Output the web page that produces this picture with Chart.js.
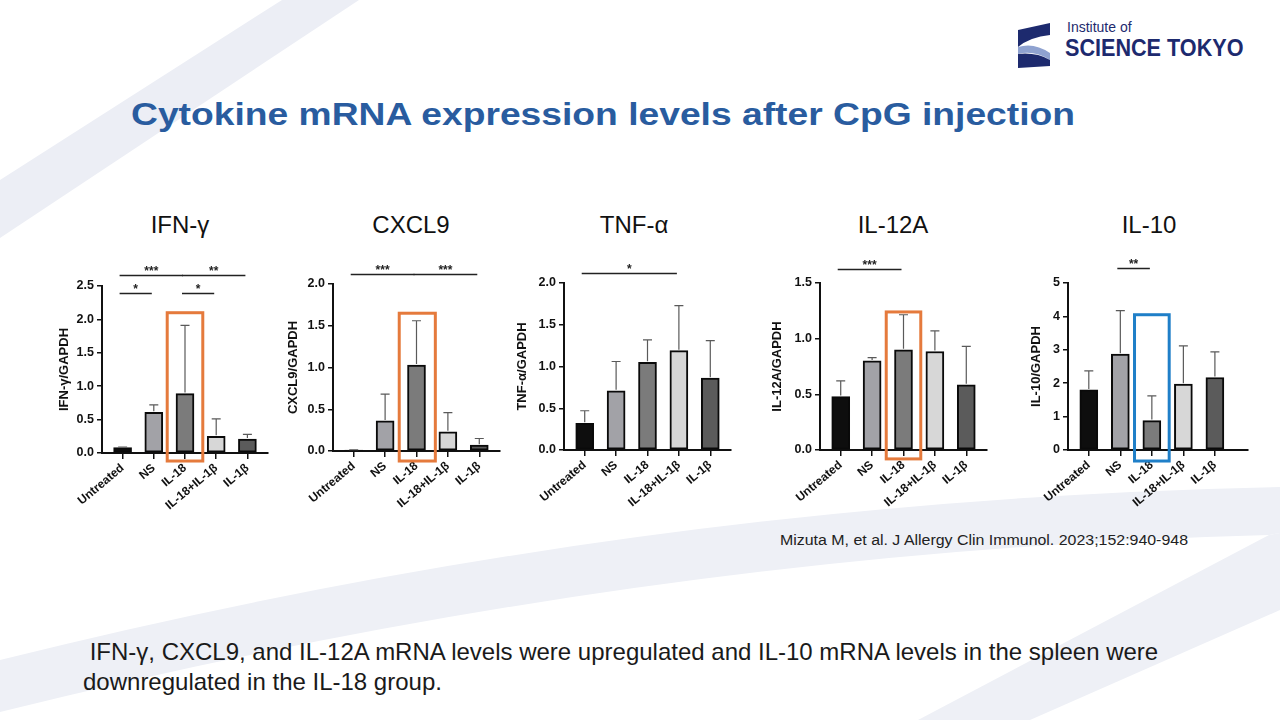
<!DOCTYPE html>
<html>
<head>
<meta charset="utf-8">
<script src="https://cdn.jsdelivr.net/npm/chart.js@4.4.1/dist/chart.umd.min.js"></script>
<style>
  body { margin:0; width:1280px; height:720px; overflow:hidden; background:#fff; position:relative;
         font-family:"Liberation Sans", Arial, Helvetica, sans-serif; }
  canvas { position:absolute; }
  .txt { position:absolute; white-space:pre; line-height:1; }
  .ptitle { position:absolute; font-size:24px; line-height:1; color:#111; transform:translateX(-50%); white-space:nowrap; }
</style>
</head>
<body>
<svg style="position:absolute;left:0;top:0" width="1280" height="720">
  <polygon points="0,180 282,0 359,0 0,238" fill="#eceef5"/>
  <path d="M0,660 Q640,500 1280,487 L1280,533 L1269,535 Q645,551 0,712 Z" fill="#eef0f6"/>
  <polygon points="1269,535 1280,533 1280,610 1030,720 918,720" fill="#eef0f6"/>
  <!-- logo mark -->
  <path d="M1018,30 L1050,23 L1050,35 Q1030,37 1018,47 Z" fill="#1d2a6e"/>
  <path d="M1018,47 Q1034,42 1050,53 L1050,60 Q1034,50 1018,54 Z" fill="#8fa2d0"/>
  <path d="M1018,54 Q1036,52 1050,60 L1050,66 L1018,68 Z" fill="#1d2a6e"/>
</svg>

<div class="txt" style="left:1067px;top:20px;font-size:14px;color:#1d2a6e;">Institute of</div>
<div class="txt" style="left:1065px;top:36px;font-size:24px;font-weight:bold;color:#1d2a6e;transform:scaleX(0.9);transform-origin:left top;">SCIENCE TOKYO</div>

<div id="mainTitle" class="txt" style="left:131px;top:98px;font-size:32px;font-weight:bold;color:#295c9f;transform-origin:left top;">Cytokine mRNA expression levels after CpG injection</div>

<div class="ptitle" style="left:180px;top:213px;">IFN-γ</div>
<div class="ptitle" style="left:411px;top:213px;">CXCL9</div>
<div class="ptitle" style="left:634px;top:213px;">TNF-α</div>
<div class="ptitle" style="left:893px;top:213px;">IL-12A</div>
<div class="ptitle" style="left:1149px;top:213px;">IL-10</div>

<div id="cite" class="txt" style="left:780px;top:532px;font-size:15.5px;color:#222;transform-origin:left top;">Mizuta M, et al. J Allergy Clin Immunol. 2023;152:940-948</div>

<div class="txt" style="left:83px;top:637px;font-size:24px;line-height:30px;color:#1a1a1a;"> IFN-γ, CXCL9, and IL-12A mRNA levels were upregulated and IL-10 mRNA levels in the spleen were
downregulated in the IL-18 group.</div>

<script>
// groups on the x axis
const groups = ["Untreated", "NS", "IL-18", "IL-18+IL-1β", "IL-1β"];

// mean and SD
const ifngMean = [0.08, 0.61, 0.89, 0.25, 0.21];
const ifngSd   = [0.01, 0.11, 1.02, 0.26, 0.07];
const cxcl9Mean = [0.01, 0.36, 1.03, 0.23, 0.07];
const cxcl9Sd   = [0.005, 0.32, 0.53, 0.23, 0.08];
const tnfMean = [0.32, 0.71, 1.05, 1.19, 0.86];
const tnfSd   = [0.15, 0.35, 0.27, 0.54, 0.45];
const il12Mean = [0.48, 0.80, 0.90, 0.885, 0.585];
const il12Sd   = [0.14, 0.03, 0.315, 0.185, 0.345];
const il10Mean = [1.80, 2.87, 0.88, 1.97, 2.17];
const il10Sd   = [0.57, 1.30, 0.74, 1.15, 0.77];

// significance brackets: [from, to, label, level]
const ifngSig = [[0, 2, "***", 2.66], [2, 4, "**", 2.66], [0, 1, "*", 2.40], [2, 3, "*", 2.40]];
const cxcl9Sig = [[0, 2, "***", 2.12], [2, 4, "***", 2.12]];
const tnfSig = [[0, 3, "*", 2.12]];
const il12Sig = [[0, 2, "***", 1.63]];
const il10Sig = [[1, 2, "**", 5.45]];

const barColors = ["#0e0e0e", "#a2a2a7", "#7b7b7b", "#d7d7d7", "#5b5b5b"];
const FONT = '"Liberation Sans", Arial, Helvetica, sans-serif';
const ORANGE = "#e57a3c";
const BLUE = "#1f7fc8";

// error bars, brackets and highlight box
const extrasPlugin = {
  id: "extras",
  afterDatasetsDraw(chart) {
    const o = chart.options.plugins.extras;
    const { ctx } = chart;
    const x = chart.scales.x, y = chart.scales.y;
    ctx.save();
    ctx.strokeStyle = "#5a5a5a";
    ctx.lineWidth = 1.2;
    o.means.forEach((m, i) => {
      const cx = x.getPixelForValue(i);
      const y0 = y.getPixelForValue(m);
      const y1 = y.getPixelForValue(m + o.sd[i]);
      ctx.beginPath();
      ctx.moveTo(cx, y0 - 1);
      ctx.lineTo(cx, y1);
      ctx.moveTo(cx - 4.5, y1);
      ctx.lineTo(cx + 4.5, y1);
      ctx.stroke();
    });
    ctx.restore();
  },
  afterDraw(chart) {
    const o = chart.options.plugins.extras;
    const { ctx } = chart;
    const x = chart.scales.x, y = chart.scales.y;
    ctx.save();
    // brackets
    ctx.strokeStyle = "#222";
    ctx.fillStyle = "#222";
    ctx.lineWidth = 1.4;
    ctx.font = "bold 12px " + FONT;
    ctx.textAlign = "center";
    ctx.textBaseline = "alphabetic";
    o.sig.forEach(([a, b, label, lvl]) => {
      const x1 = x.getPixelForValue(a) - 3;
      const x2 = x.getPixelForValue(b) - 2;
      const yy = Math.round(y.getPixelForValue(lvl)) + 0.5;
      ctx.beginPath();
      ctx.moveTo(x1, yy);
      ctx.lineTo(x2, yy);
      ctx.stroke();
      ctx.fillText(label, (x1 + x2) / 2, yy - 0.5);
    });
    // highlight box
    if (o.box) {
      const b = o.box;
      const l = x.getPixelForValue(b.x0), r = x.getPixelForValue(b.x1);
      const t = y.getPixelForValue(b.y1), btm = y.getPixelForValue(b.y0);
      ctx.strokeStyle = b.color;
      ctx.lineWidth = 3;
      ctx.strokeRect(l, t, r - l, btm - t);
    }
    ctx.restore();
  }
};

function makePanel(p) {
  const TOP = 50, XH = 80, RP = 12;
  const plotW = p.right - p.axisX;
  const plotH = p.zeroY - p.topY;
  const canvas = document.createElement("canvas");
  canvas.width = p.yw + plotW + RP;
  canvas.height = TOP + plotH + XH;
  canvas.style.left = (p.axisX - p.yw) + "px";
  canvas.style.top = (p.topY - TOP) + "px";
  document.body.appendChild(canvas);

  new Chart(canvas, {
    type: "bar",
    data: {
      datasets: [{
        data: p.means.map((v, i) => ({ x: i, y: v })),
        backgroundColor: barColors,
        borderColor: "#0a0a0a",
        borderWidth: 2,
        borderSkipped: false,
        barThickness: 18,
      }],
    },
    options: {
      responsive: false,
      animation: false,
      devicePixelRatio: 1,
      layout: { padding: { top: TOP, right: RP, left: 0, bottom: 0 } },
      plugins: {
        legend: { display: false },
        tooltip: { enabled: false },
        extras: { means: p.means, sd: p.sd, sig: p.sig, box: p.box },
      },
      scales: {
        x: {
          type: "linear",
          offset: false,
          min: -0.66,
          max: p.xMax,
          afterBuildTicks: (ax) => { ax.ticks = groups.map((g, i) => ({ value: i })); },
          afterFit: (s) => { s.height = XH; },
          ticks: {
            autoSkip: false,
            minRotation: 40,
            maxRotation: 40,
            padding: 2,
            labelOffset: 0,
            color: "#111",
            font: { family: FONT, size: 12, weight: "bold" },
            callback: (v) => groups[v],
          },
          grid: { offset: false, drawOnChartArea: false, drawTicks: true, tickLength: 6, color: "#111", lineWidth: 1.5 },
          border: { color: "#111", width: 2 },
        },
        y: {
          min: 0,
          max: p.yMax,
          afterFit: (s) => { s.width = p.yw; },
          ticks: {
            stepSize: p.step,
            padding: 3,
            color: "#111",
            font: { family: FONT, size: 12.5, weight: "bold" },
            callback: (v) => v.toFixed(p.dec),
          },
          title: {
            display: true,
            text: p.yTitle,
            color: "#111",
            font: { family: FONT, size: 13, weight: "bold" },
            padding: { top: 0, bottom: 0 },
          },
          grid: { drawOnChartArea: false, drawTicks: true, tickLength: 5, color: "#111", lineWidth: 1.5 },
          border: { color: "#111", width: 2 },
        },
      },
    },
    plugins: [extrasPlugin],
  });
}

makePanel({ axisX: 102, zeroY: 453, topY: 286, right: 268, yw: 45, xMax: 4.66,
  yMax: 2.5, step: 0.5, dec: 1, yTitle: "IFN-γ/GAPDH",
  means: ifngMean, sd: ifngSd, sig: ifngSig,
  box: { x0: 1.43, x1: 2.57, y0: -0.12, y1: 2.1, color: ORANGE } });

makePanel({ axisX: 333, zeroY: 451, topY: 284, right: 500, yw: 47, xMax: 4.66,
  yMax: 2.0, step: 0.5, dec: 1, yTitle: "CXCL9/GAPDH",
  means: cxcl9Mean, sd: cxcl9Sd, sig: cxcl9Sig,
  box: { x0: 1.45, x1: 2.6, y0: -0.12, y1: 1.65, color: ORANGE } });

makePanel({ axisX: 564, zeroY: 450, topY: 283, right: 731, yw: 49, xMax: 4.66,
  yMax: 2.0, step: 0.5, dec: 1, yTitle: "TNF-α/GAPDH",
  means: tnfMean, sd: tnfSd, sig: tnfSig, box: null });

makePanel({ axisX: 820, zeroY: 450, topY: 283, right: 987, yw: 50, xMax: 4.66,
  yMax: 1.5, step: 0.5, dec: 1, yTitle: "IL-12A/GAPDH",
  means: il12Mean, sd: il12Sd, sig: il12Sig,
  box: { x0: 1.45, x1: 2.55, y0: -0.08, y1: 1.24, color: ORANGE } });

makePanel({ axisX: 1068, zeroY: 450, topY: 283, right: 1248, yw: 39, xMax: 5.05,
  yMax: 5, step: 1, dec: 0, yTitle: "IL-10/GAPDH",
  means: il10Mean, sd: il10Sd, sig: il10Sig,
  box: { x0: 1.45, x1: 2.55, y0: -0.33, y1: 4.05, color: BLUE } });

// stretch the title and the citation to the widths they have on the slide
function fitWidth(id, w) {
  const el = document.getElementById(id);
  el.style.transform = "scaleX(" + (w / el.getBoundingClientRect().width) + ")";
}
fitWidth("mainTitle", 944);
fitWidth("cite", 408);
</script>
</body>
</html>
